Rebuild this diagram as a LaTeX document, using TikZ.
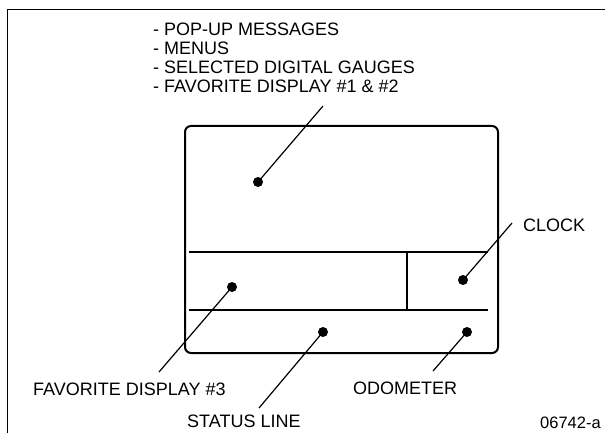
\documentclass[tikz,border=0pt]{standalone}
\usepackage{fontspec}
\setmainfont{Liberation Sans}
\begin{document}
\begin{tikzpicture}[x=1pt,y=-1pt,
  lbl/.style={inner sep=0pt,anchor=base west,font=\fontsize{18}{19}\selectfont},
  dot/.style={circle,fill=black,inner sep=0pt,minimum size=10pt},
  leader/.style={line width=1.2pt},
  part/.style={line width=1.7pt},
  frameline/.style={line width=1.5pt}]
\useasboundingbox (0,0) rectangle (605,433);
% frame
\coordinate (fr1) at (605,9.5);
\coordinate (fr2) at (7.5,9.5);
\coordinate (fr3) at (7.5,433);
\draw[frameline] (fr1) -- (fr2) -- (fr3);
% display box
\draw[line width=2pt,rounded corners=6pt] (185,126) rectangle (498,353);
\coordinate (h1a) at (189,252); \coordinate (h1b) at (488,252);
\coordinate (h2a) at (189,310); \coordinate (h2b) at (488,310);
\coordinate (va) at (407,252); \coordinate (vb) at (407,310);
\draw[part] (h1a) -- (h1b);
\draw[part] (h2a) -- (h2b);
\draw[part] (va) -- (vb);
% texts
\node[lbl] (t1) at (153,36) {- POP-UP MESSAGES};
\node[lbl] (t2) at (153,55) {- MENUS};
\node[lbl] (t3) at (153,74) {- SELECTED DIGITAL GAUGES};
\node[lbl] (t4) at (153,93) {- FAVORITE DISPLAY \#1 \& \#2};
\node[lbl] (clock) at (523,231) {CLOCK};
\node[lbl] (fav3) at (33,395) {FAVORITE DISPLAY \#3};
\node[lbl] (odo) at (353,394) {ODOMETER};
\node[lbl] (status) at (187,427) {STATUS LINE};
\node[lbl,font=\fontsize{16.5}{19}\selectfont] (code) at (540,428) {06742-a};
% dots
\node[dot] (dmain) at (258,182) {};
\node[dot] (dfav) at (232,287) {};
\node[dot] (dclock) at (463,280) {};
\node[dot] (dstatus) at (323,332) {};
\node[dot] (dodo) at (467,332) {};
% leader ends
\coordinate (cmain) at (323,106);
\coordinate (cfav) at (159,372);
\coordinate (cclock) at (512,223);
\coordinate (cstatus) at (259,408);
\coordinate (codo) at (433,371);
\draw[leader] (dmain.center) -- (cmain);
\draw[leader] (dfav.center) -- (cfav);
\draw[leader] (dclock.center) -- (cclock);
\draw[leader] (dstatus.center) -- (cstatus);
\draw[leader] (dodo.center) -- (codo);
\end{tikzpicture}
\end{document}
